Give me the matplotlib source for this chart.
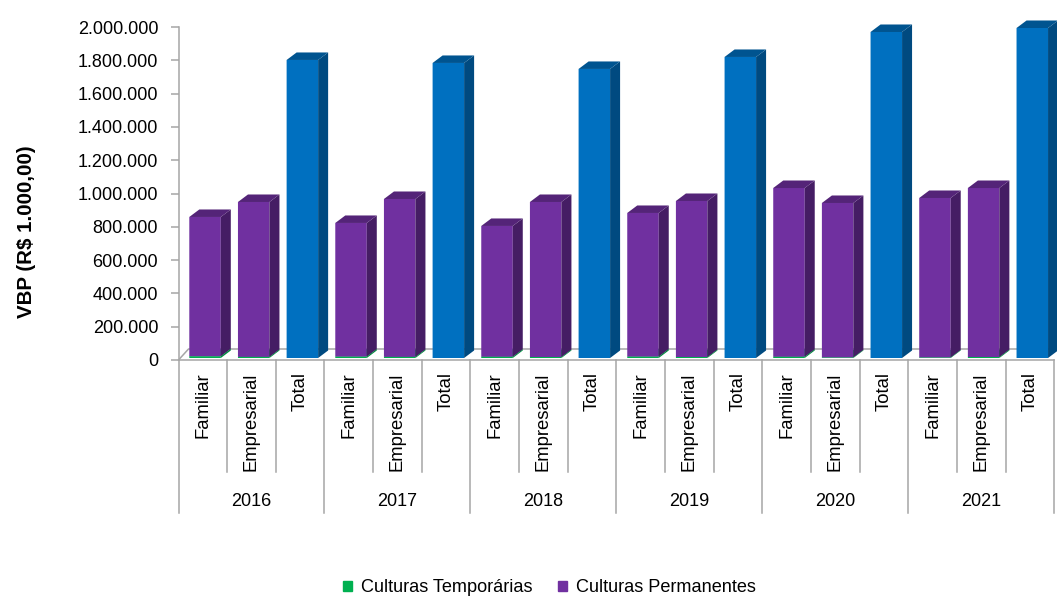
#!/usr/bin/env python3

import matplotlib
import matplotlib.pyplot as plt
from matplotlib.patches import Polygon, Patch
from matplotlib.ticker import FuncFormatter
matplotlib.use('Agg')

years = ['2016', '2017', '2018', '2019', '2020', '2021']
groups = ['Familiar', 'Empresarial', 'Total']

# one value per bar, in R$ 1.000,00
temporarias = [11000, 7000, 0, 9000, 7000, 0, 8000, 6000, 0,
               9000, 6000, 0, 8000, 4000, 0, 4000, 6000, 0]
permanentes = [836000, 930000, 0, 802000, 948000, 0, 785000, 931000, 0,
               862000, 937000, 0, 1013000, 927000, 0, 957000, 1015000, 0]
totais = [0, 0, 1790000, 0, 0, 1772000, 0, 0, 1736000,
          0, 0, 1808000, 0, 0, 1958000, 0, 0, 1982000]

W, H = 1057, 596
PX_X = 1 / 48.66   # one pixel in category units
PX_Y = 2000000 / 333   # one pixel in value units
BAR_W = 31.5 * PX_X
DEPTH_X = 10 * PX_X
DEPTH_Y = 7.5 * PX_Y
BASE = 2 * PX_Y

GREEN = ('#00B050', '#008A3E', '#00A048')
PURPLE = ('#7030A0', '#451D64', '#542478')
BLUE = ('#0070C0', '#004A80', '#005490')
GREY = '#A6A6A6'

plt.rcParams['font.family'] = ['Liberation Sans', 'DejaVu Sans']


def draw_block(ax, x, bottom, height, colors):
    # front face goes through bar(), side and top are offset from it
    if height <= 0:
        return
    top = bottom + height
    right = x + BAR_W
    # no snapping, the green layer is thinner than two pixels
    ax.bar(x, height, BAR_W, bottom=bottom, align='edge', color=colors[0],
           linewidth=0, zorder=3, clip_on=False, snap=False)
    ax.add_patch(Polygon([(right, bottom), (right + DEPTH_X, bottom + DEPTH_Y),
                          (right + DEPTH_X, top + DEPTH_Y), (right, top)],
                         facecolor=colors[1], linewidth=0, zorder=3,
                         clip_on=False))
    ax.add_patch(Polygon([(x, top), (right, top),
                          (right + DEPTH_X, top + DEPTH_Y),
                          (x + DEPTH_X, top + DEPTH_Y)],
                         facecolor=colors[2], linewidth=0, zorder=3,
                         clip_on=False))


def main():
    fig = plt.figure(figsize=(W / 100, H / 100), dpi=100)
    ax = fig.add_axes([178.5 / W, 1 - 360 / H, 875.9 / W, 333 / H])
    ax.set_xlim(0, 18)
    ax.set_ylim(0, 2000000)

    for side in ['top', 'right']:
        ax.spines[side].set_visible(False)
    for side in ['left', 'bottom']:
        ax.spines[side].set_color(GREY)
        ax.spines[side].set_linewidth(1.1)

    # floor of the 3d box
    ax.plot([0, DEPTH_X, 18.1], [0, 11 * PX_Y, 11 * PX_Y], color=GREY, lw=1.1,
            zorder=1, clip_on=False)

    for i in range(len(temporarias)):
        x = i + 10.8 * PX_X
        draw_block(ax, x, BASE, temporarias[i], GREEN)
        draw_block(ax, x, BASE + temporarias[i], permanentes[i], PURPLE)
        draw_block(ax, x, BASE, totais[i], BLUE)

    ax.yaxis.set_major_locator(plt.MultipleLocator(200000))
    ax.yaxis.set_major_formatter(
        FuncFormatter(lambda v, pos: '{:,.0f}'.format(v).replace(',', '.')))
    ax.tick_params(axis='y', length=5.8, width=1.1, color=GREY, pad=8.8,
                   labelsize=13)
    ax.set_ylabel('VBP (R$ 1.000,00)', fontsize=14.8, fontweight='bold')
    ax.yaxis.set_label_coords(-142.5 / 875.9, 128 / 333)

    ax.set_xticks([i + 0.5 for i in range(18)])
    ax.set_xticklabels(groups * len(years), rotation=90, va='top', ha='center',
                       fontsize=13.3)
    ax.tick_params(axis='x', length=0, pad=8.8)

    # multi level category separators
    trans = ax.get_xaxis_transform()
    for i in range(19):
        low = -153 / 333 if i % 3 == 0 else -112 / 333
        ax.plot([i, i], [0, low], color=GREY, lw=1.1, transform=trans,
                clip_on=False)
    for j, year in enumerate(years):
        ax.text(3 * j + 1.5, -141 / 333, year, transform=trans, ha='center',
                va='center', fontsize=13)

    handles = [Patch(color=GREEN[0], label='Culturas Temporárias'),
               Patch(color=PURPLE[0], label='Culturas Permanentes')]
    fig.legend(handles=handles, loc='center', ncol=2, frameon=False,
               bbox_to_anchor=(549.5 / W, 1 - 588 / H), fontsize=13.1,
               handlelength=0.5, handleheight=0.5, handletextpad=0.5,
               columnspacing=1.36, borderpad=0)

    fig.savefig('out.png', dpi=100)


if __name__ == '__main__':
    main()
